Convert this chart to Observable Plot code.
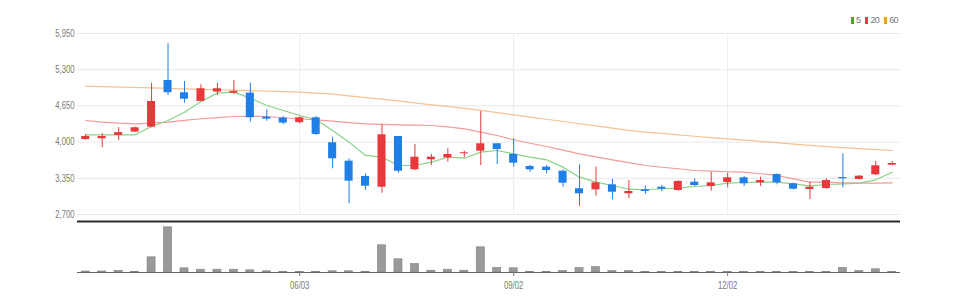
<!DOCTYPE html>
<html><head><meta charset="utf-8">
<script src="https://cdn.jsdelivr.net/npm/d3@7"></script>
<script src="https://cdn.jsdelivr.net/npm/@observablehq/plot@0.6"></script>
<style>
body{margin:0;background:#fff;}
#wrap{position:relative;width:956px;height:307px;font-family:"Liberation Sans",Arial,sans-serif;}
#wrap svg{display:block;}
#legend{position:absolute;left:851px;top:15px;font-size:9px;color:#777;display:flex;align-items:center;white-space:nowrap;letter-spacing:-0.6px;}
#legend span.sw{display:inline-block;width:3px;height:7px;margin-right:2px;}
#legend span.it{margin-right:5px;display:flex;align-items:center;}
</style></head>
<body><div id="wrap"><div id="legend"></div></div>
<script>
const dates = ["2024-03-04","2024-03-11","2024-03-18","2024-03-25","2024-04-01","2024-04-08","2024-04-15","2024-04-22","2024-04-29","2024-05-06","2024-05-13","2024-05-20","2024-05-27","2024-06-03","2024-06-10","2024-06-17","2024-06-24","2024-07-01","2024-07-08","2024-07-15","2024-07-22","2024-07-29","2024-08-05","2024-08-12","2024-08-19","2024-08-26","2024-09-02","2024-09-09","2024-09-16","2024-09-23","2024-09-30","2024-10-07","2024-10-14","2024-10-21","2024-10-28","2024-11-04","2024-11-11","2024-11-18","2024-11-25","2024-12-02","2024-12-09","2024-12-16","2024-12-23","2024-12-30","2025-01-06","2025-01-13","2025-01-20","2025-01-27","2025-02-03","2025-02-10"];
const open  = [4047,4060,4120,4180,4268,5107,4886,4730,4898,4880,4879,4448,4430,4348,4437,3988,3658,3382,3190,4101,3503,3682,3718,3790,3837,3970,3778,3562,3550,3478,3162,3143,3233,3072,3143,3190,3131,3280,3203,3275,3359,3269,3418,3251,3149,3167,3364,3328,3413,3585];
const high  = [4137,4150,4260,4270,5058,5766,5089,5030,5058,5107,5058,4580,4460,4450,4460,4088,3700,3430,4314,4101,3957,3778,3880,3837,4550,3970,4060,3580,3580,3502,3592,3550,3330,3310,3215,3220,3310,3341,3460,3443,3382,3370,3430,3262,3280,3341,3790,3400,3652,3652];
const low   = [4030,3900,4030,4170,4258,4837,4699,4730,4838,4855,4358,4375,4311,4330,4120,3520,2892,3131,3082,3442,3490,3580,3640,3718,3580,3598,3550,3460,3430,3190,2849,3029,2964,2985,3059,3108,3120,3203,3120,3180,3203,3203,3233,3143,2967,3154,3180,3320,3400,3580];
const close = [4101,4100,4170,4257,4729,4886,4771,4958,4958,4910,4437,4412,4340,4437,4137,3700,3298,3208,4131,3477,3729,3729,3778,3808,3970,3867,3621,3502,3490,3262,3072,3269,3100,3113,3113,3154,3293,3221,3269,3359,3251,3310,3269,3154,3190,3310,3341,3388,3575,3616];
const ma5   = [4131,4128,4128,4131,4280,4388,4537,4729,4879,4897,4789,4658,4568,4478,4401,4209,3999,3760,3729,3580,3580,3639,3729,3711,3819,3849,3790,3729,3682,3550,3370,3280,3221,3154,3144,3162,3172,3203,3221,3262,3275,3280,3280,3251,3215,3239,3251,3262,3323,3460];
const ma20  = [4388,4360,4340,4329,4340,4358,4390,4419,4440,4460,4462,4460,4437,4419,4400,4376,4350,4329,4318,4311,4305,4298,4275,4239,4178,4119,4042,3980,3921,3855,3790,3735,3682,3630,3580,3548,3521,3490,3478,3468,3460,3432,3400,3340,3280,3280,3270,3262,3265,3269];
const ma60  = [5004,4996,4988,4980,4972,4964,4956,4948,4940,4932,4924,4916,4908,4898,4880,4860,4830,4800,4770,4740,4705,4670,4640,4605,4570,4530,4490,4450,4410,4370,4330,4290,4250,4210,4180,4155,4130,4105,4080,4058,4035,4012,3990,3965,3940,3920,3900,3882,3865,3849];
const volume = [10000,10000,17000,7000,152000,452000,42000,28000,28000,28000,22000,12000,6000,6000,6000,12000,12000,6000,272000,132000,85000,18000,28000,18000,252000,45000,42000,6000,6000,15000,45000,55000,15000,15000,5000,5000,5000,5000,5000,5000,5000,5000,5000,5000,5000,5000,45000,15000,32000,5000];
const yTicks = [2700,3350,4000,4650,5300,5950];
const xTicks = ["2024-06-03","2024-09-02","2024-12-02"];
const maNames = ["5","20","60"];
const maLineColors = ["#86d386","#f39a9a","#f5c191"];
const maKeyColors = ["#2cb52c","#ee3a48","#f29a33"];

const UP = "#e8383d", DOWN = "#1f7fe6";
const data = dates.map((d,i)=>({date:d, open:open[i], high:high[i], low:low[i], close:close[i], ma5:ma5[i], ma20:ma20[i], ma60:ma60[i], vol:volume[i], up: close[i] >= open[i]}));
const xScale = {type:"band", domain:dates, range:[77,900], padding:0, round:false};
const fmtDate = d => d.slice(5).replace("-","/");

const price = Plot.plot({
  width:956, height:220, marginLeft:77, marginRight:56, marginTop:33, marginBottom:6,
  style:{fontFamily:"inherit", background:"#fff"},
  x:{...xScale, axis:null},
  y:{domain:[2700,5950], range:[214,33], axis:null},
  marks:[
    Plot.gridY(yTicks, {stroke:"#e9e9e9", strokeOpacity:1}),
    Plot.ruleX(xTicks, {y1:2700, y2:5950, stroke:"#ececec"}),
    Plot.axisY(yTicks, {tickSize:0, tickPadding:3, tickFormat:d3.format(","), fontSize:10, color:"#7a7a7a", label:null}),
    Plot.lineY(data, {x:"date", y:"ma60", stroke:maLineColors[2], strokeWidth:1.2}),
    Plot.lineY(data, {x:"date", y:"ma20", stroke:maLineColors[1], strokeWidth:1.2}),
    Plot.lineY(data, {x:"date", y:"ma5", stroke:maLineColors[0], strokeWidth:1.2}),
    Plot.ruleX(data, {x:"date", y1:"low", y2:"high", stroke:d=>d.up?UP:DOWN, strokeWidth:1}),
    Plot.barY(data, {x:"date", y1:"open", y2:"close", fill:d=>d.up?UP:DOWN, insetLeft:4.2, insetRight:4.2}),
  ]
});

const vol = Plot.plot({
  width:956, height:87, marginLeft:77, marginRight:56, marginTop:1, marginBottom:35,
  style:{fontFamily:"inherit", background:"#fff"},
  x:{...xScale, axis:null},
  y:{domain:[0,510000], range:[52,1], axis:null},
  marks:[
    Plot.ruleY([510000], {stroke:"#2a2a2a", strokeWidth:2}),
    Plot.barY(data, {x:"date", y:"vol", fill:"#9a9a9a", stroke:"#808080", strokeWidth:0.6, insetLeft:4.2, insetRight:4.2}),
    Plot.ruleY([0], {stroke:"#666"}),
    Plot.axisX(xTicks, {tickSize:4, tickPadding:5, tickFormat:fmtDate, fontSize:10, color:"#777", label:null}),
  ]
});

const wrap = document.getElementById("wrap");
wrap.appendChild(price);
wrap.appendChild(vol);
// condense tick labels (the reference uses a narrow face)
wrap.querySelectorAll("svg g[aria-label$='tick label'] text").forEach(t=>{
  const w = t.getComputedTextLength();
  t.setAttribute("textLength", (w*0.77).toFixed(1));
  t.setAttribute("lengthAdjust", "spacingAndGlyphs");
});
const leg = document.getElementById("legend");
maNames.forEach((n,i)=>{
  const it = document.createElement("span"); it.className="it";
  const sw = document.createElement("span"); sw.className="sw"; sw.style.background = maKeyColors[i];
  it.appendChild(sw); it.appendChild(document.createTextNode(n));
  leg.appendChild(it);
});
</script>
</body></html>
